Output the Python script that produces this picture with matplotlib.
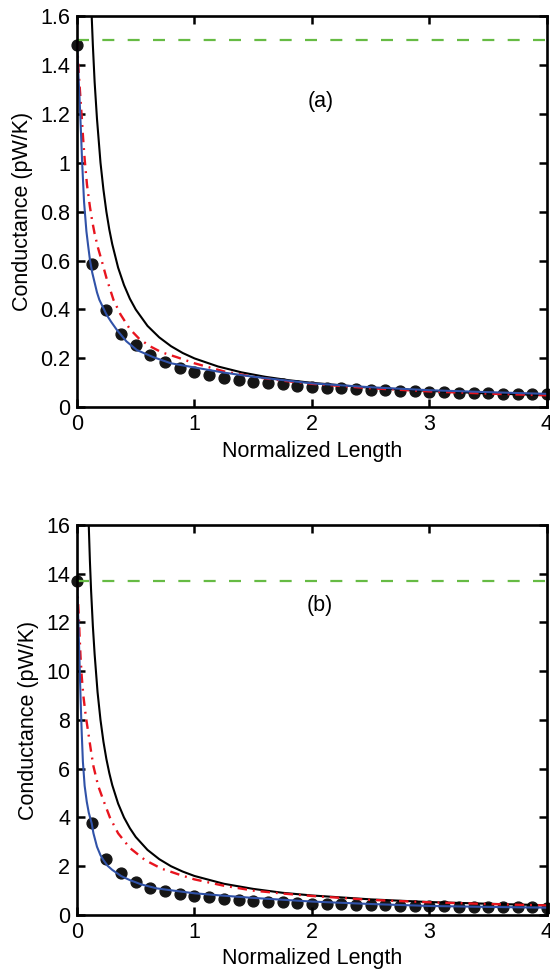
import numpy as np
import matplotlib.pyplot as plt
from matplotlib.ticker import FuncFormatter

# ---- panel (a) data ----
dots_x = np.arange(0, 4.001, 0.125)
dots_a = [1.48, 0.588, 0.399, 0.300, 0.254, 0.215, 0.185, 0.160, 0.145,
          0.132, 0.119, 0.111, 0.105, 0.100, 0.094, 0.089, 0.085, 0.081,
          0.078, 0.075, 0.072, 0.070, 0.068, 0.066, 0.063, 0.061, 0.060,
          0.058, 0.057, 0.056, 0.055, 0.054, 0.053]

black_a_x = [0.125, 0.135, 0.15, 0.17, 0.2, 0.225, 0.25, 0.275, 0.3, 0.35,
             0.4, 0.45, 0.5, 0.6, 0.7, 0.8, 0.9, 1.0, 1.2, 1.4, 1.6, 1.8,
             2.0, 2.5, 3.0, 3.5, 4.0]
black_a = [1.6, 1.48, 1.33, 1.18, 1.0, 0.89, 0.8, 0.727, 0.667, 0.571,
           0.5, 0.444, 0.4, 0.333, 0.286, 0.25, 0.222, 0.2, 0.167, 0.143,
           0.125, 0.111, 0.1, 0.08, 0.067, 0.057, 0.05]

red_a_x = [0, 0.01, 0.02, 0.03, 0.04, 0.052, 0.066, 0.085, 0.11, 0.13, 0.15,
           0.18, 0.21, 0.25, 0.31, 0.37, 0.45, 0.53, 0.62, 0.72, 0.85, 1.0,
           1.25, 1.5, 1.75, 2.0, 2.5, 3.0, 3.5, 4.0]
red_a = [1.5, 1.41, 1.33, 1.26, 1.19, 1.1, 1.01, 0.91, 0.82, 0.76, 0.71,
         0.65, 0.60, 0.53, 0.44, 0.38, 0.32, 0.28, 0.25, 0.225, 0.205, 0.18,
         0.147, 0.125, 0.109, 0.096, 0.078, 0.065, 0.056, 0.049]

blue_a_x = [0, 0.007, 0.013, 0.02, 0.026, 0.035, 0.043, 0.052, 0.06, 0.07,
            0.08, 0.095, 0.111, 0.13, 0.15, 0.17, 0.19, 0.22, 0.25, 0.29,
            0.34, 0.42, 0.51, 0.65, 0.8, 1.0, 1.25, 1.5, 2.0, 2.5, 3.0, 3.5,
            4.0]
blue_a = [1.49, 1.42, 1.35, 1.28, 1.215, 1.11, 1.01, 0.92, 0.84, 0.78,
          0.72, 0.66, 0.60, 0.55, 0.51, 0.47, 0.44, 0.41, 0.38, 0.35,
          0.316, 0.27, 0.234, 0.205, 0.18, 0.163, 0.142, 0.125, 0.098, 0.082,
          0.07, 0.062, 0.055]

green_a = 1.5

# ---- panel (b) data ----
dots_b = [13.7, 3.76, 2.28, 1.71, 1.35, 1.12, 0.98, 0.87, 0.78, 0.72, 0.67,
          0.63, 0.59, 0.55, 0.52, 0.49, 0.47, 0.45, 0.43, 0.42, 0.40, 0.39,
          0.38, 0.37, 0.36, 0.35, 0.34, 0.335, 0.33, 0.32, 0.315, 0.31, 0.305]

black_b_x = [0.1, 0.11, 0.12, 0.135, 0.15, 0.175, 0.2, 0.225, 0.25, 0.275,
             0.3, 0.35, 0.4, 0.45, 0.5, 0.6, 0.7, 0.8, 0.9, 1.0, 1.25, 1.5,
             1.75, 2.0, 2.5, 3.0, 3.5, 4.0]
black_b = [16.0, 14.5, 13.3, 11.85, 10.7, 9.14, 8.0, 7.11, 6.4, 5.82,
           5.33, 4.57, 4.0, 3.56, 3.2, 2.67, 2.29, 2.0, 1.78, 1.6, 1.28, 1.07,
           0.91, 0.8, 0.64, 0.53, 0.46, 0.4]

red_b_x = [0, 0.008, 0.015, 0.022, 0.03, 0.04, 0.054, 0.075, 0.097, 0.12,
           0.14, 0.18, 0.225, 0.28, 0.35, 0.45, 0.58, 0.72, 0.88, 1.0, 1.25,
           1.5, 1.75, 2.0, 2.5, 3.0, 3.5, 4.0]
red_b = [13.7, 12.95, 12.3, 11.45, 10.6, 9.8, 9.0, 8.15, 7.45, 6.7, 6.1,
         5.3, 4.7, 4.0, 3.35, 2.75, 2.25, 1.9, 1.64, 1.46, 1.2, 1.0, 0.88,
         0.78, 0.62, 0.52, 0.45, 0.39]

blue_b_x = [0, 0.006, 0.012, 0.019, 0.026, 0.033, 0.04, 0.05, 0.065, 0.083,
            0.1, 0.125, 0.14, 0.17, 0.2, 0.225, 0.26, 0.3, 0.375, 0.45, 0.55,
            0.68, 0.9, 1.0, 1.25, 1.5, 2.0, 2.5, 3.0, 3.5, 4.0]
blue_b = [13.7, 12.85, 12.0, 10.8, 9.6, 8.5, 7.5, 6.3, 5.3, 4.65, 4.2,
          3.76, 3.35, 2.8, 2.45, 2.25, 2.02, 1.85, 1.6, 1.43, 1.25, 1.09,
          0.95, 0.89, 0.79, 0.7, 0.55, 0.45, 0.37, 0.33, 0.3]

green_b = 13.7

plt.rcParams['font.family'] = ['Liberation Sans', 'DejaVu Sans']

fig = plt.figure(figsize=(5.5, 9.74), dpi=100, facecolor='white')
ax_a = fig.add_axes([0.14, 0.5818, 0.8545, 0.4018])
ax_b = fig.add_axes([0.14, 0.0606, 0.8545, 0.4004])

GREEN = '#66BB44'
RED = '#E8141E'
BLUE = '#3052A8'


def fmt(v, pos):
    return '%g' % round(v, 2)


panels = [
    (ax_a, dots_a, black_a_x, black_a, red_a_x, red_a, blue_a_x, blue_a,
     green_a, 1.6, np.arange(0, 1.61, 0.2), '(a)', 1.25),
    (ax_b, dots_b, black_b_x, black_b, red_b_x, red_b, blue_b_x, blue_b,
     green_b, 16, np.arange(0, 16.1, 2), '(b)', 12.7),
]

for (ax, dots, bx, by, rx, ry, ux, uy, g, ymax, yt, tag, tag_y) in panels:
    ax.axhline(g, color=GREEN, lw=1.6, dashes=(5.4, 6))
    ax.plot(bx, by, color='black', lw=1.5)
    ax.plot(rx, ry, color=RED, lw=1.7, dashes=(4, 2.5, 0.8, 2.5))
    ax.plot(ux, uy, color=BLUE, lw=1.5)
    ax.plot(dots_x, dots, 'o', color='#151515', ms=7.8, clip_on=False,
            zorder=1)
    ax.set_xlim(0, 4)
    ax.set_ylim(0, ymax)
    ax.set_xticks([0, 1, 2, 3, 4])
    ax.set_yticks(yt)
    ax.yaxis.set_major_formatter(FuncFormatter(fmt))
    ax.tick_params(direction='in', length=6, width=1.8, labelsize=15.5,
                   top=True, right=True, pad=5)
    for s in ax.spines.values():
        s.set_linewidth(1.9)
    ax.set_xlabel('Normalized Length', fontsize=15.5, labelpad=4)
    ax.set_ylabel('Conductance (pW/K)', fontsize=15.5, labelpad=5)
    ax.text(2.07, tag_y, tag, fontsize=15.5, ha='center', va='center')

fig.savefig('out.png', dpi=100, facecolor='white')
